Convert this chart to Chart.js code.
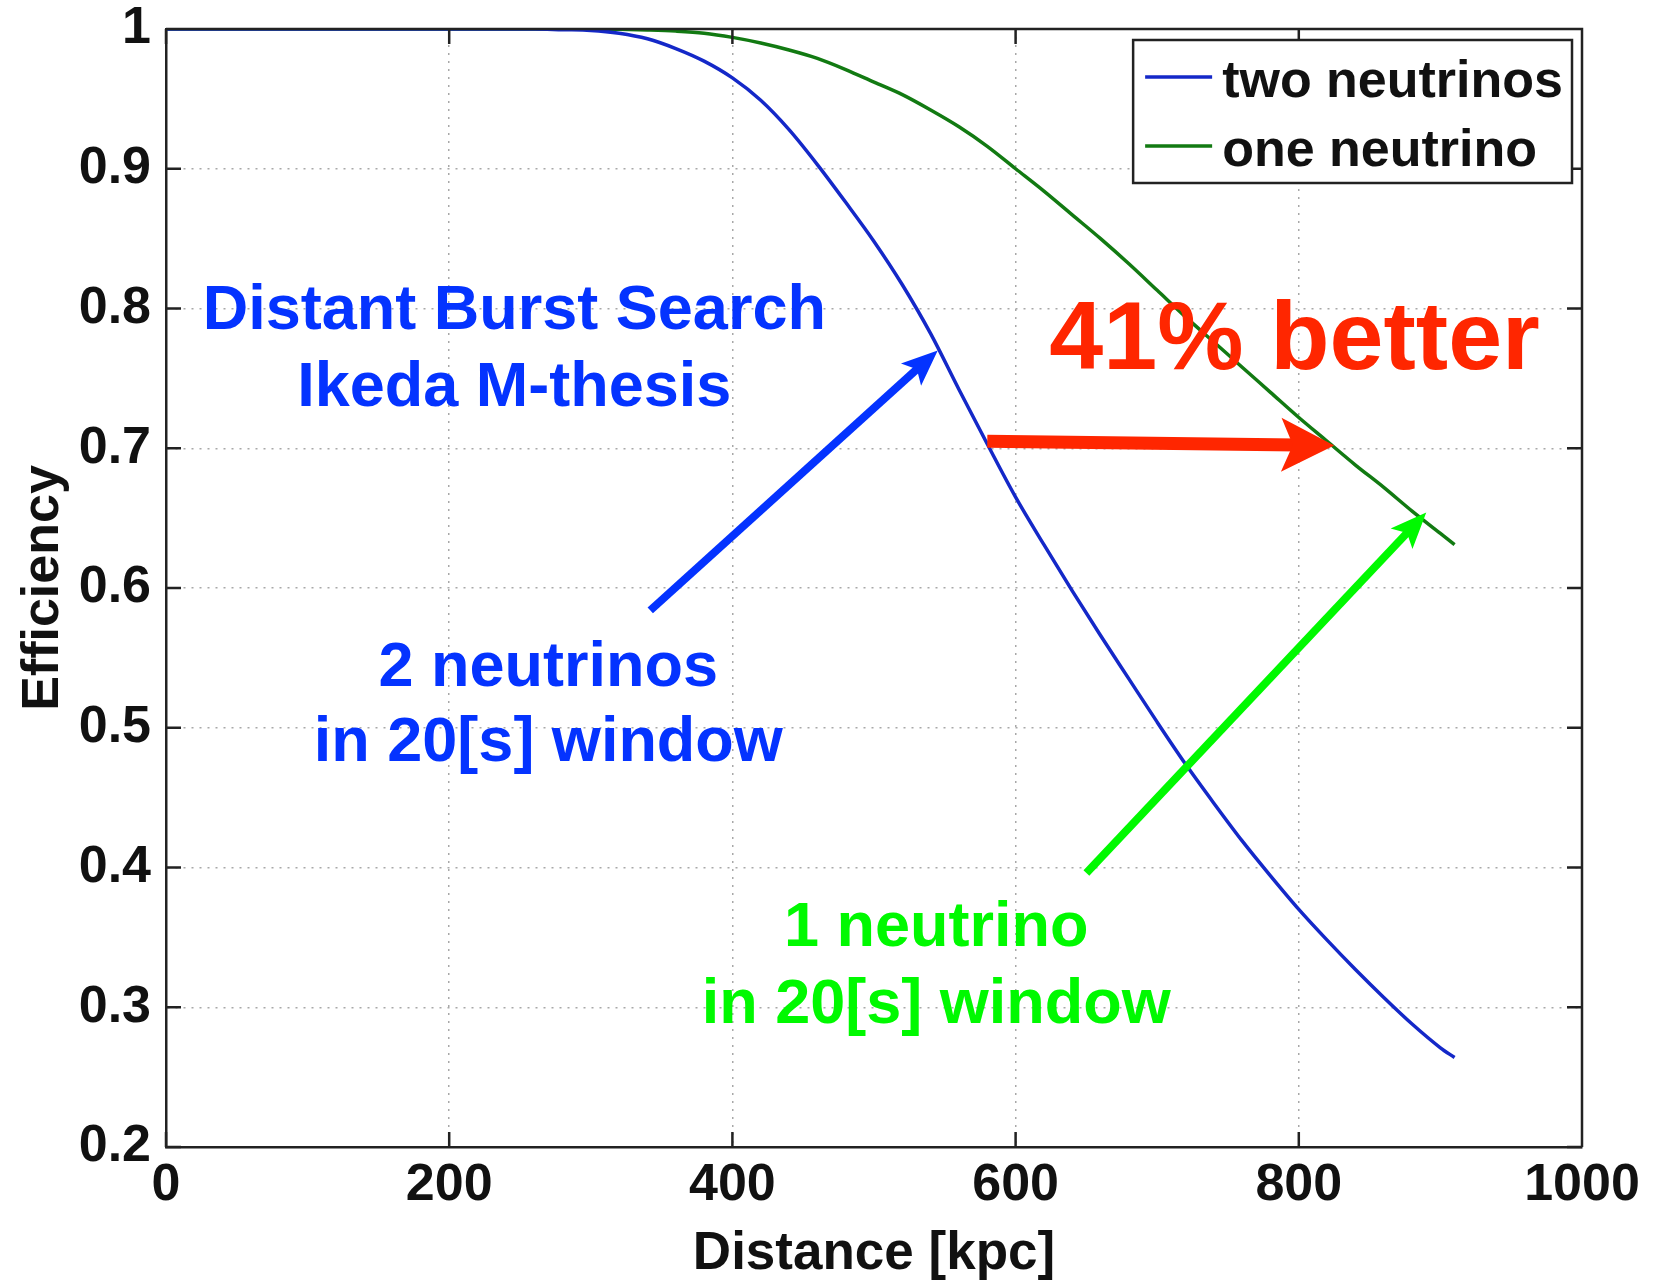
<!DOCTYPE html>
<html>
<head>
<meta charset="utf-8">
<script src="https://cdn.jsdelivr.net/npm/chart.js@4.4.0/dist/chart.umd.min.js"></script>
<style>
  html, body { margin: 0; padding: 0; background: #fff; }
  #wrap { width: 1654px; height: 1281px; }
</style>
</head>
<body>
<div id="wrap"><canvas id="c" width="1654" height="1281"></canvas></div>
<script>
// ── Data ───────────────────────────────────────────────────────────────────
const distance = [0, 100, 200, 260, 280, 300, 320, 340, 360, 380, 400, 420, 440, 460, 480, 500,
                  520, 540, 560, 580, 600, 620, 640, 660, 680, 700, 720, 740, 760, 780, 800,
                  820, 840, 860, 880, 900, 910];
const twoNeutrinos = [1, 1, 1, 1, 0.9995, 0.999, 0.997, 0.993, 0.986, 0.977, 0.965, 0.949, 0.928, 0.903, 0.876, 0.848,
                      0.817, 0.782, 0.742, 0.703, 0.665, 0.631, 0.598, 0.566, 0.535, 0.504, 0.474, 0.446, 0.419, 0.394, 0.370,
                      0.348, 0.327, 0.307, 0.288, 0.271, 0.264];
const oneNeutrino = [1, 1, 1, 1, 1, 1, 0.9998, 0.9993, 0.9985, 0.997, 0.994, 0.990, 0.985, 0.979, 0.971, 0.962,
                     0.953, 0.942, 0.930, 0.916, 0.900, 0.884, 0.867, 0.850, 0.832, 0.813, 0.794, 0.776, 0.758, 0.740, 0.722,
                     0.705, 0.688, 0.672, 0.655, 0.639, 0.631];
const xTicks = [0, 200, 400, 600, 800, 1000];
const yTicks = [0.2, 0.3, 0.4, 0.5, 0.6, 0.7, 0.8, 0.9, 1];
const seriesNames = ['two neutrinos', 'one neutrino'];

// annotations, in data coordinates
const notes = [
  { text: 'Distant Burst Search', x: 246, y: 0.785, color: '#0433FF', size: 63 },
  { text: 'Ikeda M-thesis',       x: 246, y: 0.730, color: '#0433FF', size: 63 },
  { text: '41% better',           x: 797, y: 0.757, color: '#FF2600', size: 97 },
  { text: '2 neutrinos',          x: 270, y: 0.530, color: '#0433FF', size: 63 },
  { text: 'in 20[s] window',      x: 270, y: 0.476, color: '#0433FF', size: 63 },
  { text: '1 neutrino',           x: 544, y: 0.344, color: '#00F900', size: 63 },
  { text: 'in 20[s] window',      x: 544, y: 0.289, color: '#00F900', size: 63 }
];
const arrows = [
  { from: [342, 0.584], to: [545, 0.770], color: '#0433FF', w: 8,  head: 36, half: 15 },
  { from: [580, 0.705], to: [825, 0.702], color: '#FF2600', w: 13, head: 53, half: 27 },
  { from: [650, 0.396], to: [890, 0.654], color: '#00F900', w: 8,  head: 36, half: 15 }
];

const FONT = '"Liberation Sans", Arial, Helvetica, sans-serif';
const INK = '#111';

function drawArrow(ctx, x0, y0, x1, y1, a) {
  const ang = Math.atan2(y1 - y0, x1 - x0);
  const len = Math.hypot(x1 - x0, y1 - y0);
  ctx.save();
  ctx.translate(x1, y1);
  ctx.rotate(ang);
  ctx.fillStyle = a.color;
  ctx.fillRect(-len, -a.w / 2, len - a.head * 0.7, a.w);
  ctx.beginPath();
  ctx.moveTo(0, 0);
  ctx.lineTo(-a.head, -a.half);
  ctx.lineTo(-a.head * 0.78, 0);
  ctx.lineTo(-a.head, a.half);
  ctx.closePath();
  ctx.fill();
  ctx.restore();
}

// ── Plugin: box frame, inward ticks, legend, annotations ───────────────────
const decor = {
  id: 'decor',
  afterDatasetsDraw(chart) {
    const { ctx, chartArea: a, scales: { x, y } } = chart;
    ctx.save();
    ctx.strokeStyle = '#222';
    ctx.lineWidth = 2.5;
    ctx.beginPath();
    ctx.moveTo(a.left, a.top); ctx.lineTo(a.right, a.top); ctx.lineTo(a.right, a.bottom);
    const tl = 15;
    xTicks.forEach(v => {
      const px = x.getPixelForValue(v);
      ctx.moveTo(px, a.bottom); ctx.lineTo(px, a.bottom - tl);
      ctx.moveTo(px, a.top);    ctx.lineTo(px, a.top + tl);
    });
    yTicks.forEach(v => {
      const py = y.getPixelForValue(v);
      ctx.moveTo(a.left, py);  ctx.lineTo(a.left + tl, py);
      ctx.moveTo(a.right, py); ctx.lineTo(a.right - tl, py);
    });
    ctx.stroke();
    ctx.restore();
  },
  afterDraw(chart) {
    const { ctx, chartArea: a, scales: { x, y } } = chart;
    ctx.save();

    // legend
    ctx.font = 'bold 52px ' + FONT;
    const tw = Math.max(...chart.data.datasets.map(d => ctx.measureText(d.label).width));
    const sample = 67, gap = 10, padL = 12, padR = 9;
    const bx1 = a.right - 10, by0 = a.top + 11;
    const bx0 = bx1 - (padL + sample + gap + tw + padR);
    const bh = 143;
    ctx.fillStyle = '#fff';
    ctx.fillRect(bx0, by0, bx1 - bx0, bh);
    ctx.strokeStyle = '#222';
    ctx.lineWidth = 2.5;
    ctx.strokeRect(bx0, by0, bx1 - bx0, bh);
    chart.data.datasets.forEach((d, i) => {
      const ry = by0 + 37 + i * 69;
      ctx.strokeStyle = d.borderColor;
      ctx.lineWidth = 3.5;
      ctx.beginPath();
      ctx.moveTo(bx0 + padL, ry); ctx.lineTo(bx0 + padL + sample, ry);
      ctx.stroke();
      ctx.fillStyle = INK;
      ctx.textAlign = 'left';
      ctx.textBaseline = 'alphabetic';
      ctx.fillText(d.label, bx0 + padL + sample + gap, ry + 20);
    });

    // arrows
    arrows.forEach(ar => {
      drawArrow(ctx,
        x.getPixelForValue(ar.from[0]), y.getPixelForValue(ar.from[1]),
        x.getPixelForValue(ar.to[0]),   y.getPixelForValue(ar.to[1]), ar);
    });

    // notes
    notes.forEach(n => {
      ctx.font = 'bold ' + n.size + 'px ' + FONT;
      ctx.fillStyle = n.color;
      ctx.textAlign = 'center';
      ctx.textBaseline = 'alphabetic';
      ctx.fillText(n.text, x.getPixelForValue(n.x), y.getPixelForValue(n.y));
    });
    ctx.restore();
  }
};

const toPoints = vals => distance.map((d, i) => ({ x: d, y: vals[i] }));

/* global Chart */
new Chart(document.getElementById('c'), {
  type: 'line',
  data: {
    datasets: [
      {
        label: seriesNames[0],
        data: toPoints(twoNeutrinos),
        borderColor: '#1428c8',
        borderWidth: 3.5,
        pointRadius: 0,
        cubicInterpolationMode: 'monotone',
        fill: false
      },
      {
        label: seriesNames[1],
        data: toPoints(oneNeutrino),
        borderColor: '#127a12',
        borderWidth: 3.5,
        pointRadius: 0,
        cubicInterpolationMode: 'monotone',
        fill: false
      }
    ]
  },
  options: {
    responsive: false,
    animation: false,
    events: [],
    layout: { padding: { top: 29, right: 72, left: 0, bottom: 0 } },
    plugins: { legend: { display: false }, tooltip: { enabled: false } },
    scales: {
      x: {
        type: 'linear',
        min: 0,
        max: 1000,
        afterFit: s => { s.height = 134; s.paddingLeft = 0; s.paddingRight = 0; },
        afterBuildTicks: s => { s.ticks = xTicks.map(v => ({ value: v })); },
        ticks: {
          color: INK,
          padding: 13,
          maxRotation: 0,
          font: { family: FONT, size: 52, weight: 'bold', lineHeight: 1 },
          callback: v => String(v)
        },
        grid: { color: '#a8a8a8', lineWidth: 1.5, drawTicks: false },
        border: { display: true, color: '#222', width: 2.5, dash: [2, 6] },
        title: {
          display: true,
          text: 'Distance [kpc]',
          color: INK,
          font: { family: FONT, size: 53, weight: 'bold', lineHeight: 1.0 },
          padding: { top: 0, bottom: 0 }
        }
      },
      y: {
        type: 'linear',
        min: 0.2,
        max: 1,
        afterFit: s => { s.width = 166; s.paddingTop = 0; s.paddingBottom = 0; },
        afterBuildTicks: s => { s.ticks = yTicks.map(v => ({ value: v })); },
        ticks: {
          color: INK,
          padding: 15,
          font: { family: FONT, size: 52, weight: 'bold', lineHeight: 1 },
          callback: v => String(Math.round(v * 10) / 10)
        },
        grid: { color: '#a8a8a8', lineWidth: 1.5, drawTicks: false },
        border: { display: true, color: '#222', width: 2.5, dash: [2, 6] },
        title: {
          display: true,
          text: 'Efficiency',
          color: INK,
          font: { family: FONT, size: 52, weight: 'bold', lineHeight: 1.2 },
          padding: { top: 12, bottom: 0 }
        }
      }
    }
  },
  plugins: [decor]
});
</script>
</body>
</html>
